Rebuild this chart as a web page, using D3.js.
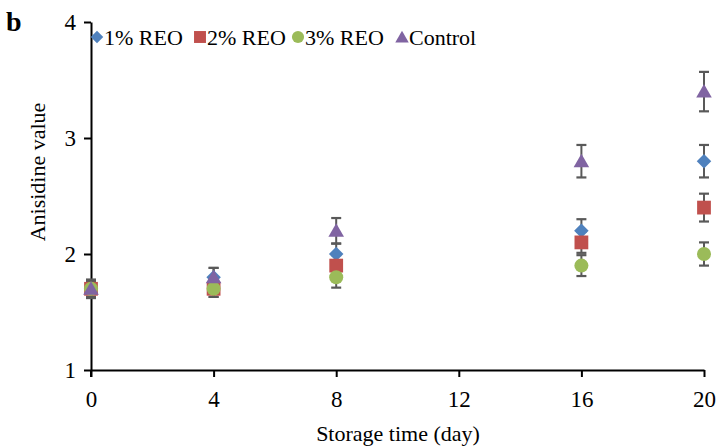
<!DOCTYPE html>
<html><head><meta charset="utf-8">
<script src="https://cdn.jsdelivr.net/npm/d3@7"></script>
<style>body{margin:0;background:#fff}svg{display:block}text{font-family:"Liberation Serif","Times New Roman",serif}</style>
</head><body><svg id="c" width="719" height="447"></svg>
<script>
const days = [0, 4, 8, 16, 20];
const seriesNames = ["1% REO", "2% REO", "3% REO", "Control"];
const reo1 = [1.70, 1.80, 2.00, 2.20, 2.80];
const reo2 = [1.70, 1.70, 1.90, 2.10, 2.40];
const reo3 = [1.70, 1.70, 1.80, 1.90, 2.00];
const control = [1.70, 1.80, 2.20, 2.80, 3.40];
const err1 = [0.07, 0.08, 0.09, 0.10, 0.14];
const err2 = [0.07, 0.07, 0.09, 0.09, 0.12];
const err3 = [0.07, 0.07, 0.09, 0.09, 0.10];
const errC = [0.08, 0.08, 0.11, 0.14, 0.17];
const xTicks = [0, 4, 8, 12, 16, 20];
const yTicks = [1, 2, 3, 4];

const colors = ["#4F81BD", "#C0504D", "#9BBB59", "#8064A2"];
const shapes = [d3.symbolSquare, d3.symbolSquare, d3.symbolCircle, d3.symbolTriangle];
const rotations = [45, 0, 0, 0];
const sizes = [105, 190, 155, 105];
const values = [reo1, reo2, reo3, control];
const errs = [err1, err2, err3, errC];

const svg = d3.select("#c");
const x = d3.scaleLinear().domain([0, 20]).range([91, 704]);
const y = d3.scaleLinear().domain([1, 4]).range([370, 22]);

// axes
const xAxis = svg.append("g").attr("transform", `translate(0,${y(1)})`)
  .call(d3.axisBottom(x).tickValues(xTicks).tickFormat(d3.format("d")).tickSize(7).tickPadding(14).tickSizeOuter(0));
const yAxis = svg.append("g").attr("transform", `translate(${x(0)},0)`)
  .call(d3.axisLeft(y).tickValues(yTicks).tickFormat(d3.format("d")).tickSize(7).tickPadding(8).tickSizeOuter(0));
[xAxis, yAxis].forEach(a => {
  a.select(".domain").attr("stroke", "#000").attr("stroke-width", 2);
  a.selectAll(".tick line").attr("stroke", "#000").attr("stroke-width", 2);
  a.selectAll(".tick text").attr("font-size", 23).attr("fill", "#000")
    .style("font-family", '"Liberation Serif", serif');
});
// extend y axis slightly below x axis
svg.append("line").attr("x1", x(0)).attr("x2", x(0)).attr("y1", y(1)).attr("y2", y(1) + 7)
  .attr("stroke", "#000").attr("stroke-width", 2);

// error bars and markers
const plot = svg.append("g");
values.forEach((vals, si) => {
  days.forEach((d, i) => {
    const cx = x(d), v = vals[i], e = errs[si][i];
    const g = plot.append("g");
    g.append("line").attr("x1", cx).attr("x2", cx).attr("y1", y(v - e)).attr("y2", y(v + e))
      .attr("stroke", "#595959").attr("stroke-width", 2);
    [v - e, v + e].forEach(t => g.append("line").attr("x1", cx - 5).attr("x2", cx + 5)
      .attr("y1", y(t)).attr("y2", y(t)).attr("stroke", "#595959").attr("stroke-width", 2.2));
  });
});
values.forEach((vals, si) => {
  plot.selectAll(null).data(days).enter().append("path")
    .attr("d", d3.symbol().type(shapes[si]).size(sizes[si]))
    .attr("transform", (d, i) => `translate(${x(d)},${y(vals[i]) + (si === 3 ? 1.5 : 0)}) rotate(${rotations[si]})`)
    .attr("fill", colors[si]);
});

// legend
const legX = [97, 200, 298, 402];
const leg = svg.append("g");
seriesNames.forEach((n, i) => {
  leg.append("path").attr("d", d3.symbol().type(shapes[i]).size(sizes[i] * 0.75))
    .attr("transform", `translate(${legX[i]},${37 + (i === 3 ? 1.5 : 0)}) rotate(${rotations[i]})`).attr("fill", colors[i]);
  leg.append("text").attr("x", legX[i] + 7).attr("y", 45).attr("font-size", 22).text(n);
});

// titles
svg.append("text").attr("x", 398).attr("y", 441).attr("text-anchor", "middle")
  .attr("font-size", 22).text("Storage time (day)");
svg.append("text").attr("transform", "translate(45,172) rotate(-90)").attr("text-anchor", "middle")
  .attr("font-size", 22).text("Anisidine value");
svg.append("text").attr("x", 6).attr("y", 31).attr("font-size", 28).attr("font-weight", "bold").text("b");
</script></body></html>
